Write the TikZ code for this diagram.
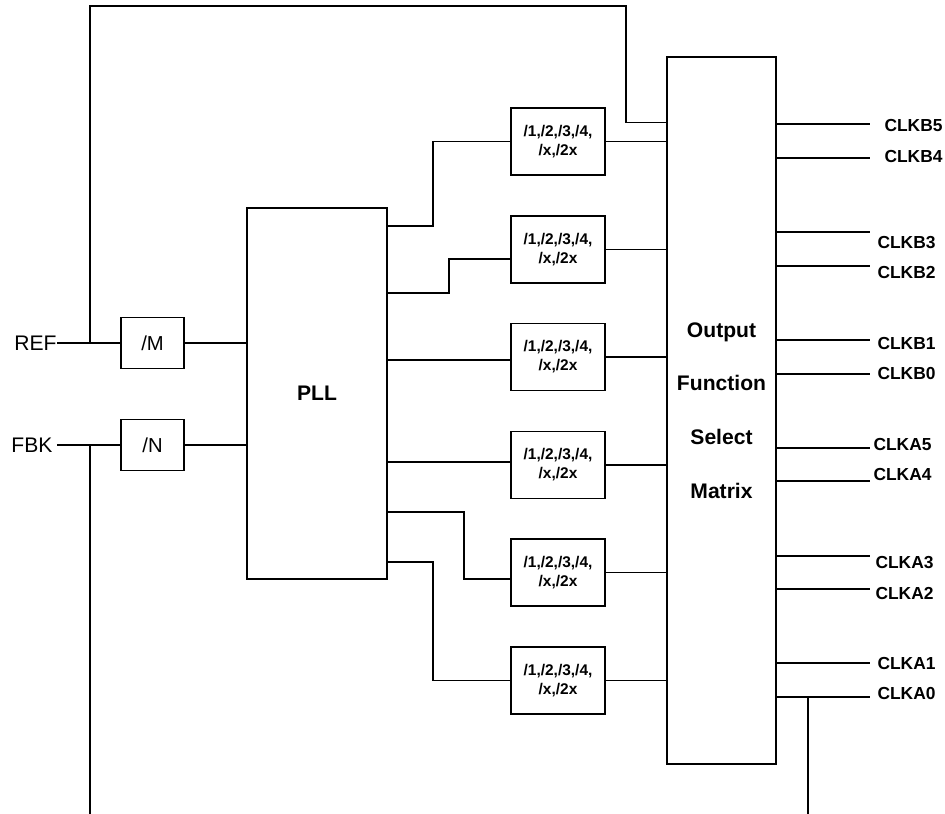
\documentclass[tikz,border=0pt]{standalone}
\usepackage{fontspec}
\setmainfont{Liberation Sans}
\usetikzlibrary{calc,positioning}

\begin{document}
\begin{tikzpicture}[x=0.2mm,y=-0.2mm,line width=0.6pt,
blk/.style={draw,line width=0.7pt,inner sep=0pt,align=center},
divbox/.style={blk,minimum width=18.8mm,minimum height=13.4mm,
  font=\fontsize{8.8}{10.8}\selectfont\bfseries},
inbox/.style={blk,minimum width=12.6mm,minimum height=10.2mm,
  font=\fontsize{11.5}{14}\selectfont},
clk/.style={anchor=west,inner sep=0pt,font=\fontsize{9.9}{12}\selectfont\bfseries},
pin/.style={anchor=east,inner sep=0pt,font=\fontsize{12}{14}\selectfont}]

\useasboundingbox (0,0) rectangle (945,814);

% Parameters
\def\xout{870}
\def\ybot{814}

% Inputs
\node[pin] (ref) at (57,343) {REF};
\node[pin] (fbk) at (53,445) {FBK};

% Input dividers
\node[inbox] (divM) at (152.5,343) {/M};
\node[inbox] (divN) at (152.5,445) {/N};

% PLL
\node[blk,minimum width=28mm,minimum height=74.2mm,
  font=\fontsize{12}{14}\selectfont\bfseries] (pll) at (317,393.5) {PLL};

% Output dividers
\foreach \i/\y in {1/141.5,2/249.5,3/357,4/465,5/572.5,6/680.5}
{
\node[divbox] (div\i) at (558,\y) {/1,/2,/3,/4,\\/x,/2x};
}

% Matrix
\node[blk,minimum width=21.8mm,minimum height=141.4mm,
  font=\fontsize{12}{30.6}\selectfont\bfseries] (mtx) at (721.5,410.5)
  {Output\\Function\\Select\\Matrix};

% Input wiring
\draw (ref.east) -- (divM.west);
\draw (fbk.east -| ref.east) -- (divN.west);
\draw (divM.east) -- (divM.east -| pll.west);
\draw (divN.east) -- (divN.east -| pll.west);

% Feedback path
\coordinate (reftap) at ($(ref.east)+(33,0)$);
\coordinate (fbtop) at (626,6);
\draw (reftap) |- (fbtop) |- ($(mtx.north west)+(0,66)$);
\draw (fbk.east -| reftap) -- (reftap |- 0,\ybot);

% PLL to dividers
\draw (pll.east |- 0,226) -| (433,0 |- div1.west) -- (div1.west);
\draw (pll.east |- 0,293) -| (449,259) -- (div2.west |- 0,259);
\draw (pll.east |- 0,360) -- (div3.west |- 0,360);
\draw (pll.east |- 0,462) -- (div4.west |- 0,462);
\draw (pll.east |- 0,512) -| (464,579) -- (div5.west |- 0,579);
\draw (pll.east |- 0,562) -| (433,0 |- div6.west) -- (div6.west);

% Dividers to matrix
\foreach \i in {1,...,6}
{
\draw (div\i.east) -- (div\i.east -| mtx.west);
}

% Clock outputs
\foreach \y/\name/\dx/\dy in {124/CLKB5/14/2,158/CLKB4/14/-1,
  232/CLKB3/7/11,266/CLKB2/7/7,340/CLKB1/7/4,374/CLKB0/7/0,
  448/CLKA5/3/-3,481/CLKA4/3/-6,556/CLKA3/5/7,589/CLKA2/5/5,
  663/CLKA1/7/1,697/CLKA0/7/-3}
{
\draw (mtx.east |- 0,\y) -- (\xout,\y) coordinate (end\name);
\node[clk] (\name) at ($(end\name)+(\dx,\dy)$) {\name};
}

% CLKA0 feedback tap
\coordinate (a0tap) at (808,697);
\draw (a0tap) -- (a0tap |- 0,\ybot);

\end{tikzpicture}
\end{document}
